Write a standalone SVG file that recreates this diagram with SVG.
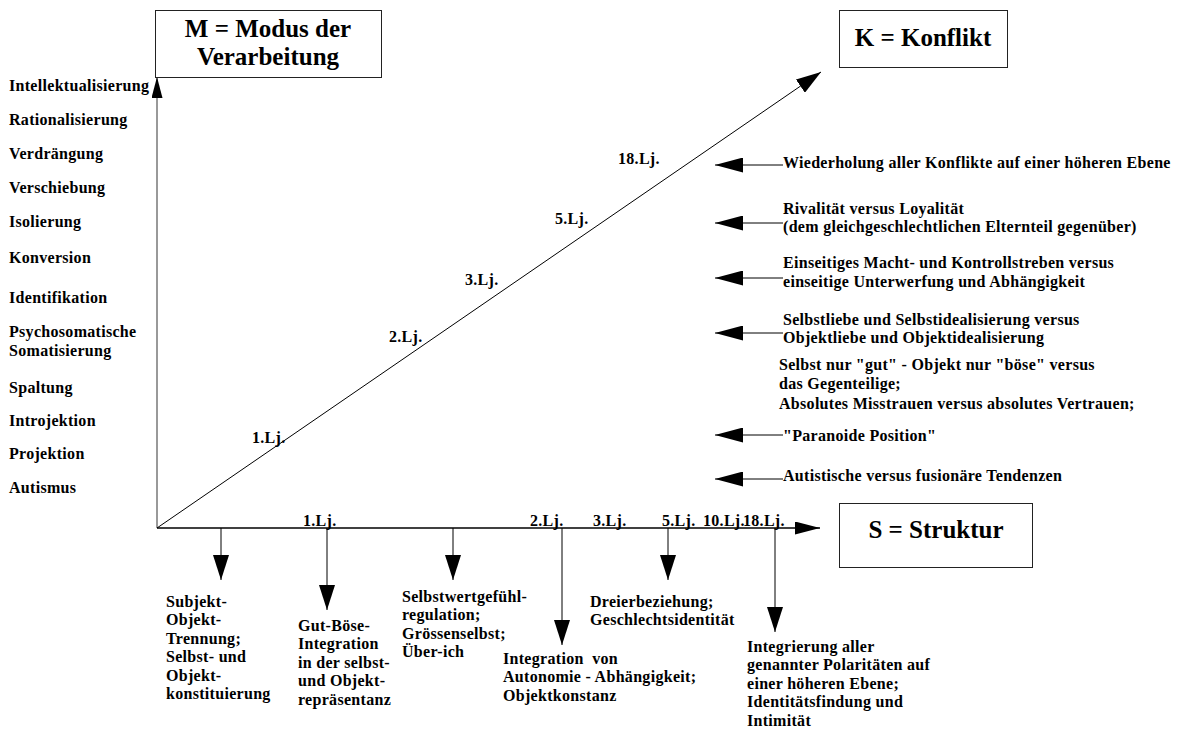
<svg xmlns="http://www.w3.org/2000/svg" width="1177" height="731" viewBox="0 0 1177 731">
  <style>
    .t { font-family: "Liberation Serif", "Times New Roman", serif; font-weight: bold; font-size: 16px; letter-spacing: 0.3px; fill: #000; }
    .title { font-family: "Liberation Serif", "Times New Roman", serif; font-weight: bold; font-size: 25px; fill: #000; text-anchor: middle; }
    .box { fill: #fff; stroke: #222; stroke-width: 1; }
    .ln { stroke: #000; stroke-width: 1; fill: none; }
    .axis { stroke: #000; stroke-width: 1.5; fill: none; }
    .vaxis { stroke: #555; stroke-width: 1.2; fill: none; }
  </style>
  <defs>
    <marker id="head" markerUnits="userSpaceOnUse" markerWidth="25" markerHeight="16" refX="25" refY="8" orient="auto">
      <path d="M0,0 L25,8 L0,16 z" fill="#000"/>
    </marker>
    <marker id="headL" markerUnits="userSpaceOnUse" markerWidth="28" markerHeight="15" refX="28" refY="7.5" orient="auto">
      <path d="M0,0 L28,7.5 L0,15 z" fill="#000"/>
    </marker>
    <marker id="headS" markerUnits="userSpaceOnUse" markerWidth="25" markerHeight="13" refX="25" refY="6.5" orient="auto">
      <path d="M0,0 L25,6.5 L0,13 z" fill="#000"/>
    </marker>
    <marker id="headT" markerUnits="userSpaceOnUse" markerWidth="21" markerHeight="11" refX="21" refY="5.5" orient="auto">
      <path d="M0,0 L21,5.5 L0,11 z" fill="#000"/>
    </marker>
  </defs>

  <rect width="1177" height="731" fill="#fff"/>

  <!-- axes and arrows -->
  <g id="connectors">
    <line class="vaxis" x1="157" y1="528" x2="157" y2="77" marker-end="url(#headT)"/>
    <line class="axis" x1="157" y1="528" x2="820" y2="528" marker-end="url(#headS)"/>
    <line class="ln" x1="157" y1="528" x2="821" y2="72" marker-end="url(#head)"/>

    <!-- conflict arrows pointing at the diagonal -->
    <line class="ln" x1="783" y1="165" x2="715" y2="165" marker-end="url(#headL)"/>
    <line class="ln" x1="783" y1="223" x2="715" y2="223" marker-end="url(#headL)"/>
    <line class="ln" x1="783" y1="278" x2="715" y2="278" marker-end="url(#headL)"/>
    <line class="ln" x1="783" y1="333" x2="715" y2="333" marker-end="url(#headL)"/>
    <line class="ln" x1="783" y1="435" x2="715" y2="435" marker-end="url(#headL)"/>
    <line class="ln" x1="783" y1="479" x2="715" y2="479" marker-end="url(#headL)"/>

    <!-- structure arrows below the axis -->
    <line class="ln" x1="221" y1="528" x2="221" y2="580" marker-end="url(#head)"/>
    <line class="ln" x1="327" y1="528" x2="327" y2="610" marker-end="url(#head)"/>
    <line class="ln" x1="453" y1="528" x2="453" y2="580" marker-end="url(#head)"/>
    <line class="ln" x1="562" y1="528" x2="562" y2="645" marker-end="url(#head)"/>
    <line class="ln" x1="668" y1="528" x2="668" y2="580" marker-end="url(#head)"/>
    <line class="ln" x1="775" y1="528" x2="775" y2="632" marker-end="url(#head)"/>
  </g>

  <!-- axis titles -->
  <g id="node-modus">
    <rect class="box" x="155.5" y="10.5" width="226" height="67"/>
    <text class="title" x="268" y="37">M = Modus der</text>
    <text class="title" x="268" y="65">Verarbeitung</text>
  </g>
  <g id="node-konflikt">
    <rect class="box" x="839.5" y="10.5" width="168" height="57"/>
    <text class="title" x="923" y="46">K = Konflikt</text>
  </g>
  <g id="node-struktur">
    <rect class="box" x="839.5" y="503.5" width="193" height="64"/>
    <text class="title" x="936" y="538">S = Struktur</text>
  </g>

  <!-- defence mechanisms along the vertical axis -->
  <g id="node-modus-labels">
    <text class="t" x="9" y="91">Intellektualisierung</text>
    <text class="t" x="9" y="125">Rationalisierung</text>
    <text class="t" x="9" y="159">Verdrängung</text>
    <text class="t" x="9" y="193">Verschiebung</text>
    <text class="t" x="9" y="227">Isolierung</text>
    <text class="t" x="9" y="263">Konversion</text>
    <text class="t" x="9" y="303">Identifikation</text>
    <text class="t" x="9" y="337">Psychosomatische</text>
    <text class="t" x="9" y="356">Somatisierung</text>
    <text class="t" x="9" y="393">Spaltung</text>
    <text class="t" x="9" y="426">Introjektion</text>
    <text class="t" x="9" y="459">Projektion</text>
    <text class="t" x="9" y="493">Autismus</text>
  </g>

  <!-- ages along the conflict diagonal -->
  <g id="node-konflikt-ages">
    <text class="t" x="252" y="443">1.Lj.</text>
    <text class="t" x="389" y="342">2.Lj.</text>
    <text class="t" x="465" y="285">3.Lj.</text>
    <text class="t" x="555" y="224">5.Lj.</text>
    <text class="t" x="618" y="164">18.Lj.</text>
  </g>

  <!-- ages along the structure axis -->
  <g id="node-struktur-ages">
    <text class="t" x="303" y="526">1.Lj.</text>
    <text class="t" x="530" y="526">2.Lj.</text>
    <text class="t" x="593" y="526">3.Lj.</text>
    <text class="t" x="662" y="526">5.Lj.</text>
    <text class="t" x="703" y="526">10.Lj.</text>
    <text class="t" x="743" y="526">18.Lj.</text>
  </g>

  <!-- conflict descriptions -->
  <g id="node-k1">
    <text class="t" x="783" y="168">Wiederholung aller Konflikte auf einer höheren Ebene</text>
  </g>
  <g id="node-k2">
    <text class="t" x="783" y="214">Rivalität versus Loyalität</text>
    <text class="t" x="783" y="232">(dem gleichgeschlechtlichen Elternteil gegenüber)</text>
  </g>
  <g id="node-k3">
    <text class="t" x="783" y="268">Einseitiges Macht- und Kontrollstreben versus</text>
    <text class="t" x="783" y="287">einseitige Unterwerfung und Abhängigkeit</text>
  </g>
  <g id="node-k4">
    <text class="t" x="783" y="325">Selbstliebe und Selbstidealisierung versus</text>
    <text class="t" x="783" y="343">Objektliebe und Objektidealisierung</text>
  </g>
  <g id="node-k5">
    <text class="t" x="779" y="370">Selbst nur "gut" - Objekt nur "böse" versus</text>
    <text class="t" x="779" y="389">das Gegenteilige;</text>
    <text class="t" x="779" y="409">Absolutes Misstrauen versus absolutes Vertrauen;</text>
  </g>
  <g id="node-k6">
    <text class="t" x="783" y="441">"Paranoide Position"</text>
  </g>
  <g id="node-k7">
    <text class="t" x="783" y="481">Autistische versus fusionäre Tendenzen</text>
  </g>

  <!-- structure descriptions -->
  <g id="node-s1">
    <text class="t" x="166" y="607">Subjekt-</text>
    <text class="t" x="166" y="625.4">Objekt-</text>
    <text class="t" x="166" y="643.8">Trennung;</text>
    <text class="t" x="166" y="662.2">Selbst- und</text>
    <text class="t" x="166" y="680.6">Objekt-</text>
    <text class="t" x="166" y="699">konstituierung</text>
  </g>
  <g id="node-s2">
    <text class="t" x="298" y="631">Gut-Böse-</text>
    <text class="t" x="298" y="649.4">Integration</text>
    <text class="t" x="298" y="667.8">in der selbst-</text>
    <text class="t" x="298" y="686.2">und Objekt-</text>
    <text class="t" x="298" y="704.6">repräsentanz</text>
  </g>
  <g id="node-s3">
    <text class="t" x="402" y="602">Selbstwertgefühl-</text>
    <text class="t" x="402" y="620.4">regulation;</text>
    <text class="t" x="402" y="638.8">Grössenselbst;</text>
    <text class="t" x="402" y="657.2">Über-ich</text>
  </g>
  <g id="node-s4">
    <text class="t" x="503" y="664" style="white-space:pre">Integration  von</text>
    <text class="t" x="503" y="682.4">Autonomie - Abhängigkeit;</text>
    <text class="t" x="503" y="700.8">Objektkonstanz</text>
  </g>
  <g id="node-s5">
    <text class="t" x="590" y="607">Dreierbeziehung;</text>
    <text class="t" x="590" y="625.4">Geschlechtsidentität</text>
  </g>
  <g id="node-s6">
    <text class="t" x="747" y="652">Integrierung aller</text>
    <text class="t" x="747" y="670.4">genannter Polaritäten auf</text>
    <text class="t" x="747" y="688.8">einer höheren Ebene;</text>
    <text class="t" x="747" y="707.2">Identitätsfindung und</text>
    <text class="t" x="747" y="725.6">Intimität</text>
  </g>
</svg>
